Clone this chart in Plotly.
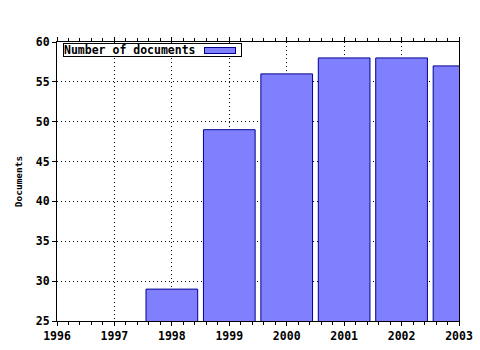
import plotly.graph_objects as go

years = [1998, 1999, 2000, 2001, 2002, 2003]
documents = [29, 49, 56, 58, 58, 57]
series_name = "Number of documents"
x_ticks = [1996, 1997, 1998, 1999, 2000, 2001, 2002, 2003]
y_ticks = [25, 30, 35, 40, 45, 50, 55, 60]

FONT = "DejaVu Sans Mono"
fig = go.Figure()
fig.add_trace(go.Bar(
    x=years, y=documents, width=0.9, name=series_name,
    marker=dict(color="#8080FF", line=dict(color="#000090", width=1)),
    showlegend=False,
))

fig.update_layout(
    width=480, height=350,
    margin=dict(l=57, r=21, t=42, b=29, autoexpand=False),
    paper_bgcolor="white", plot_bgcolor="white",
    font=dict(family=FONT, size=11.5, color="black", weight="bold"),
    xaxis=dict(
        range=[1996, 2003], tickvals=x_ticks, ticktext=[str(v) for v in x_ticks],
        showgrid=True, gridcolor="black", griddash="1px,3px", gridwidth=1,
        showline=True, linecolor="black", linewidth=1, mirror="ticks",
        ticks="outside", ticklen=4, tickcolor="black",
        minor=dict(dtick=0.2, tick0=1996, ticks="outside", ticklen=3, tickcolor="black", showgrid=False),
        zeroline=False, automargin=False,
        tickfont=dict(family=FONT, size=11.5, weight="bold"),
    ),
    yaxis=dict(
        range=[25, 60], tickvals=y_ticks,
        showgrid=True, gridcolor="black", griddash="1px,3px", gridwidth=1,
        showline=True, linecolor="black", linewidth=1, mirror=True,
        ticks="outside", ticklen=4, tickcolor="black",
        zeroline=False, automargin=False,
        tickfont=dict(family=FONT, size=11.5, weight="bold"),
        title=dict(text="Documents", standoff=11, font=dict(family=FONT, size=9.5, weight="bold")),
    ),
    bargap=0.1,
)

# legend box (swatch on the right of the label)
fig.add_annotation(
    xref="paper", yref="paper", x=(63 - 57) / 402, y=1 - (43 - 42) / 279,
    xanchor="left", yanchor="top", showarrow=False, align="left",
    text=series_name, width=177, height=12,
    font=dict(family=FONT, size=11.5, weight="bold"),
    bordercolor="black", borderwidth=1, borderpad=0, bgcolor="white",
)
fig.add_annotation(
    xref="paper", yref="paper", x=(204 - 57) / 402, y=1 - (47 - 42) / 279,
    xanchor="left", yanchor="top", showarrow=False,
    text=" ", width=30, height=5, font=dict(size=2),
    bordercolor="#000090", borderwidth=1, borderpad=0, bgcolor="#8080FF",
)

fig.write_html("out.html")
